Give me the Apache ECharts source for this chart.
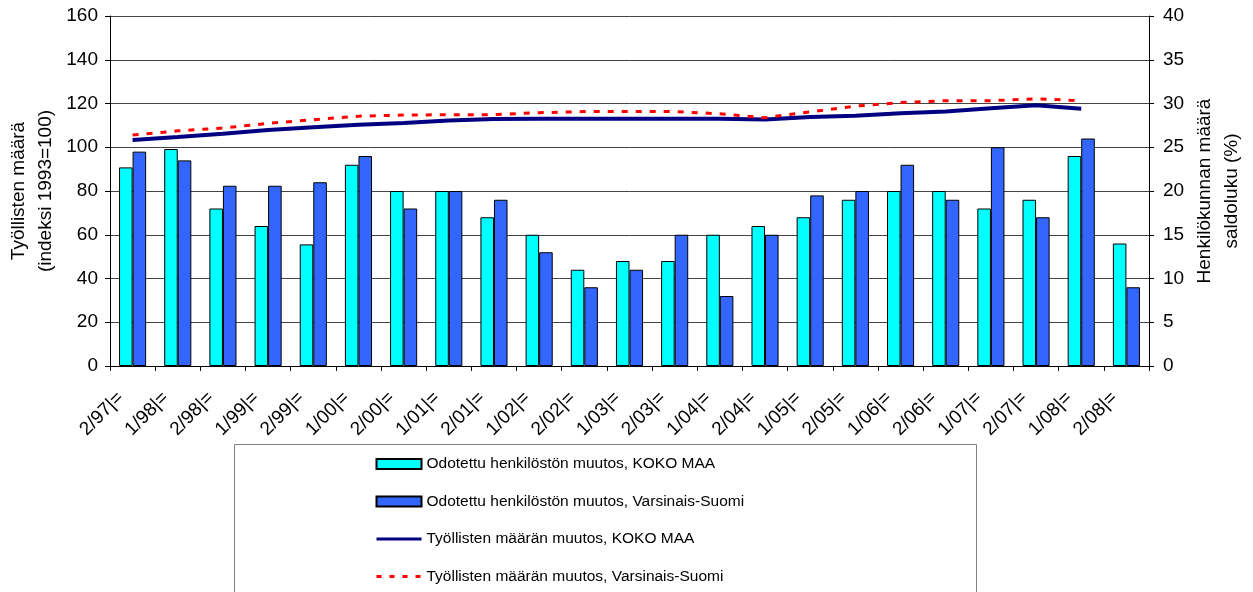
<!DOCTYPE html>
<html>
<head>
<meta charset="utf-8">
<script src="https://cdn.jsdelivr.net/npm/echarts@6/dist/echarts.min.js"></script>
<style>
html,body{margin:0;padding:0;background:#fff;}
#c{width:1253px;height:592px;}
</style>
</head>
<body>
<div id="c"></div>
<script>
const categories = ['2/97|=','1/98|=','2/98|=','1/99|=','2/99|=','1/00|=','2/00|=','1/01|=','2/01|=','1/02|=','2/02|=','1/03|=','2/03|=','1/04|=','2/04|=','1/05|=','2/05|=','1/06|=','2/06|=','1/07|=','2/07|=','1/08|=','2/08|='];
const henkilostoKokoMaa = [22.7, 24.8, 18, 16, 13.9, 23, 20, 20, 17, 15, 11, 12, 12, 15, 16, 17, 19, 20, 20, 18, 19, 24, 14];
const henkilostoVarsinaisSuomi = [24.5, 23.5, 20.6, 20.6, 21, 24, 18, 20, 19, 13, 9, 11, 15, 8, 15, 19.5, 20, 23, 19, 25, 17, 26, 9];
const tyollisetKokoMaa = [103.3, 104.7, 106.2, 107.9, 109.1, 110.3, 111.1, 112.2, 112.9, 113, 113, 113, 113, 113, 112.7, 113.8, 114.4, 115.5, 116.3, 117.8, 119.2, 117.6, null];
const tyollisetVarsinaisSuomi = [105.6, 107.5, 108.8, 110.9, 112.6, 114.2, 114.7, 114.9, 114.9, 115.8, 116.3, 116.3, 116.3, 115.3, 113.5, 116.2, 118.8, 120.4, 121.3, 121.3, 122.1, 121.3, null];
const seriesNames = ['Odotettu henkilöstön muutos, KOKO MAA','Odotettu henkilöstön muutos, Varsinais-Suomi','Työllisten määrän muutos, KOKO MAA','Työllisten määrän muutos, Varsinais-Suomi'];
const leftAxisName = 'Työllisten määrä\n(indeksi 1993=100)';
const rightAxisName = 'Henkilökunnan määrä\nsaldoluku (%)';

const FONT = "'Liberation Sans', Arial, sans-serif";
const chart = echarts.init(document.getElementById('c'), null, {renderer:'canvas'});
chart.setOption({
  animation:false,
  backgroundColor:'#fff',
  textStyle:{fontFamily:FONT,color:'#000'},
  grid:{left:110,right:104,top:16,height:350,outerBoundsMode:'none',containLabel:false},
  graphic:[{type:'rect',shape:{x:234.5,y:444.5,width:742,height:170},style:{fill:'none',stroke:'#808080',lineWidth:1},silent:true}],
  legend:{
    orient:'vertical',left:370,top:451,height:200,itemWidth:45,itemHeight:10,itemGap:21.5,
    textStyle:{fontFamily:FONT,fontSize:15.5,color:'#000',lineHeight:16},
    data:[
      {name:seriesNames[0],icon:'rect'},
      {name:seriesNames[1],icon:'rect'},
      {name:seriesNames[2],itemStyle:{opacity:0},lineStyle:{width:3}},
      {name:seriesNames[3],itemStyle:{opacity:0},lineStyle:{width:3,type:[5,8]}}
    ]
  },
  xAxis:{
    type:'category',data:categories,
    axisLine:{lineStyle:{color:'#000',width:1}},
    axisTick:{show:true,length:5,lineStyle:{color:'#000'}},
    axisLabel:{rotate:45,margin:17,padding:[0,17,0,0],fontSize:19,fontFamily:FONT,color:'#000',interval:0},
    splitLine:{show:false}
  },
  yAxis:[
    {type:'value',min:0,max:160,interval:20,position:'left',
     name:leftAxisName,nameLocation:'middle',nameRotate:90,nameGap:51,nameMoveOverlap:false,
     nameTextStyle:{fontSize:19,fontFamily:FONT,color:'#000',lineHeight:27},
     axisLine:{show:true,lineStyle:{color:'#000'}},
     axisTick:{show:true,length:5,lineStyle:{color:'#000'}},
     axisLabel:{fontSize:19,fontFamily:FONT,color:'#000',margin:12},
     splitLine:{show:true,lineStyle:{color:'#444',width:1}}},
    {type:'value',min:0,max:40,interval:5,position:'right',
     name:rightAxisName,nameLocation:'middle',nameRotate:90,nameGap:42,nameMoveOverlap:false,
     nameTextStyle:{fontSize:19,fontFamily:FONT,color:'#000',lineHeight:27},
     axisLine:{show:true,lineStyle:{color:'#000'}},
     axisTick:{show:true,length:5,lineStyle:{color:'#000'}},
     axisLabel:{fontSize:19,fontFamily:FONT,color:'#000',margin:14},
     splitLine:{show:false}}
  ],
  series:[
    {name:seriesNames[0],type:'bar',yAxisIndex:1,data:henkilostoKokoMaa,barGap:'0%',barCategoryGap:'40%',
     itemStyle:{color:'#00FFFF',borderColor:'#000',borderWidth:1}},
    {name:seriesNames[1],type:'bar',yAxisIndex:1,data:henkilostoVarsinaisSuomi,barGap:'0%',barCategoryGap:'40%',
     itemStyle:{color:'#3366FF',borderColor:'#000',borderWidth:1}},
    {name:seriesNames[2],type:'line',yAxisIndex:0,data:tyollisetKokoMaa,symbol:'none',showSymbol:false,
     lineStyle:{color:'#000080',width:4},itemStyle:{color:'#000080'},z:5},
    {name:seriesNames[3],type:'line',yAxisIndex:0,data:tyollisetVarsinaisSuomi,symbol:'none',showSymbol:false,
     lineStyle:{color:'#FF0000',width:3,type:[6,8]},itemStyle:{color:'#FF0000'},z:6}
  ]
});
</script>
</body>
</html>
